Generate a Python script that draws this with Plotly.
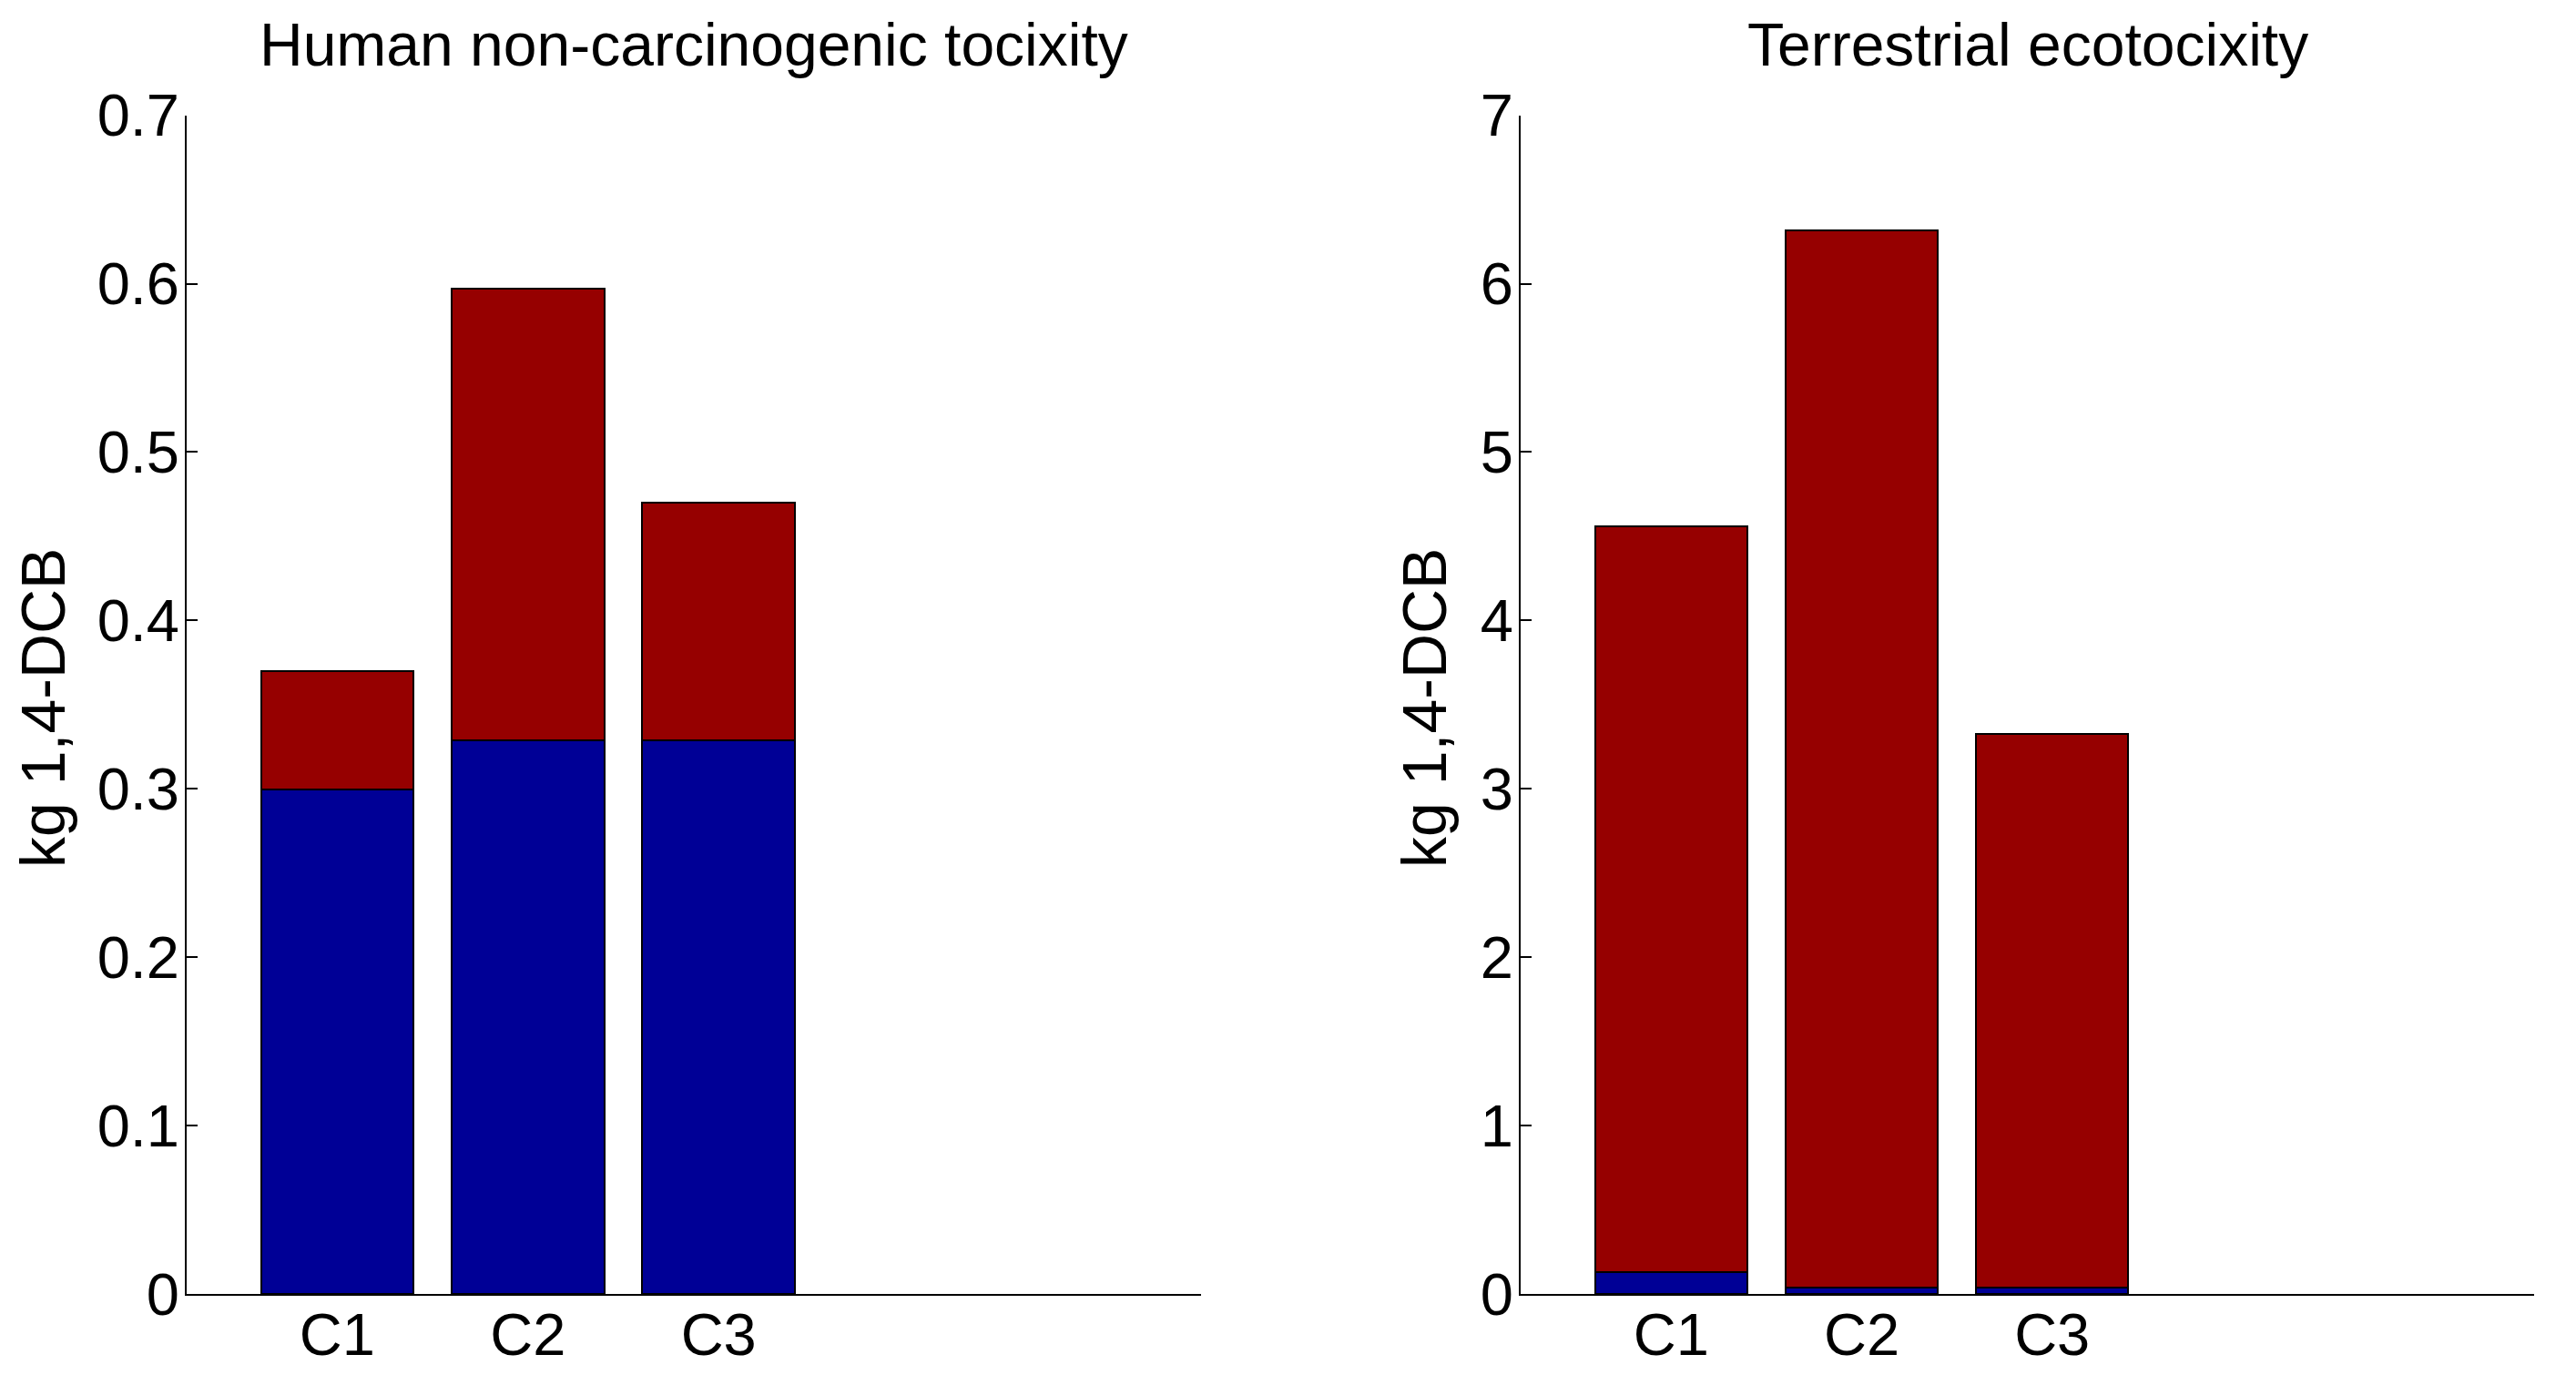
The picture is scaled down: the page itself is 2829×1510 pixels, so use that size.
import plotly.graph_objects as go

# ---- data ----
categories = ["C1", "C2", "C3"]
titles = ["Human non-carcinogenic tocixity", "Terrestrial ecotocixity"]
y_label = "kg 1,4-DCB"

human_blue = [0.300, 0.329, 0.329]
human_red = [0.070, 0.268, 0.141]

terr_blue = [0.133, 0.040, 0.040]
terr_red = [4.430, 6.278, 3.286]

human_ticks = [0, 0.1, 0.2, 0.3, 0.4, 0.5, 0.6, 0.7]
terr_ticks = [0, 1, 2, 3, 4, 5, 6, 7]

# ---- style ----
W, H = 2829, 1510
BLUE = "#000096"
RED = "#960000"
FONT = "Liberation Sans, Arial, sans-serif"
FS = 65

xpos = list(range(1, len(categories) + 1))

fig = go.Figure()
for blue, red, xa, ya in [(human_blue, human_red, "x", "y"), (terr_blue, terr_red, "x2", "y2")]:
    fig.add_trace(go.Bar(x=xpos, y=blue, width=0.8, marker=dict(color=BLUE, line=dict(color="black", width=2)),
                         xaxis=xa, yaxis=ya, showlegend=False))
    fig.add_trace(go.Bar(x=xpos, y=red, width=0.8, marker=dict(color=RED, line=dict(color="black", width=2)),
                         xaxis=xa, yaxis=ya, showlegend=False))

def px2x(p):
    return p / W

def px2y(p):
    return (H - p) / H

ydom = [px2y(1421), px2y(126.6)]
xdom1 = [px2x(205), px2x(1319)]
xdom2 = [px2x(1670), px2x(2783)]

xcommon = dict(range=[0.21, 5.53], tickmode="array", tickvals=xpos, ticktext=categories,
               showline=True, linecolor="black", linewidth=2, ticks="", showgrid=False,
               zeroline=False, tickfont=dict(family=FONT, size=FS, color="black"),
               ticklabelstandoff=-13, automargin=False)
ycommon = dict(showline=True, linecolor="black", linewidth=2, ticks="inside", ticklen=12,
               tickwidth=2, tickcolor="black", showgrid=False, zeroline=False,
               tickfont=dict(family=FONT, size=FS, color="black"), ticklabelstandoff=-7,
               automargin=False)

fig.update_layout(
    width=W, height=H,
    margin=dict(l=0, r=0, t=0, b=0, autoexpand=False),
    paper_bgcolor="white", plot_bgcolor="white",
    barmode="stack", bargap=0,
    xaxis=dict(domain=xdom1, anchor="y", **xcommon),
    yaxis=dict(domain=ydom, anchor="x", range=[0, 0.7], tickvals=human_ticks,
               ticktext=[f"{v:g}" for v in human_ticks], **ycommon),
    xaxis2=dict(domain=xdom2, anchor="y2", **xcommon),
    yaxis2=dict(domain=ydom, anchor="x2", range=[0, 7], tickvals=terr_ticks,
                ticktext=[f"{v:g}" for v in terr_ticks], **ycommon),
    annotations=[
        dict(text=titles[0], x=(xdom1[0] + xdom1[1]) / 2, y=px2y(49), xref="paper", yref="paper",
             xanchor="center", yanchor="middle", showarrow=False,
             font=dict(family=FONT, size=66, color="black")),
        dict(text=titles[1], x=(xdom2[0] + xdom2[1]) / 2, y=px2y(49), xref="paper", yref="paper",
             xanchor="center", yanchor="middle", showarrow=False,
             font=dict(family=FONT, size=66, color="black")),
        dict(text=y_label, x=px2x(47), y=px2y(778), xref="paper", yref="paper", textangle=-90,
             xanchor="center", yanchor="middle", showarrow=False,
             font=dict(family=FONT, size=68, color="black")),
        dict(text=y_label, x=px2x(1564), y=px2y(778), xref="paper", yref="paper", textangle=-90,
             xanchor="center", yanchor="middle", showarrow=False,
             font=dict(family=FONT, size=68, color="black")),
    ],
)

fig.write_html("out.html", config={"displayModeBar": False},
               post_script="document.body.style.margin='0';")
